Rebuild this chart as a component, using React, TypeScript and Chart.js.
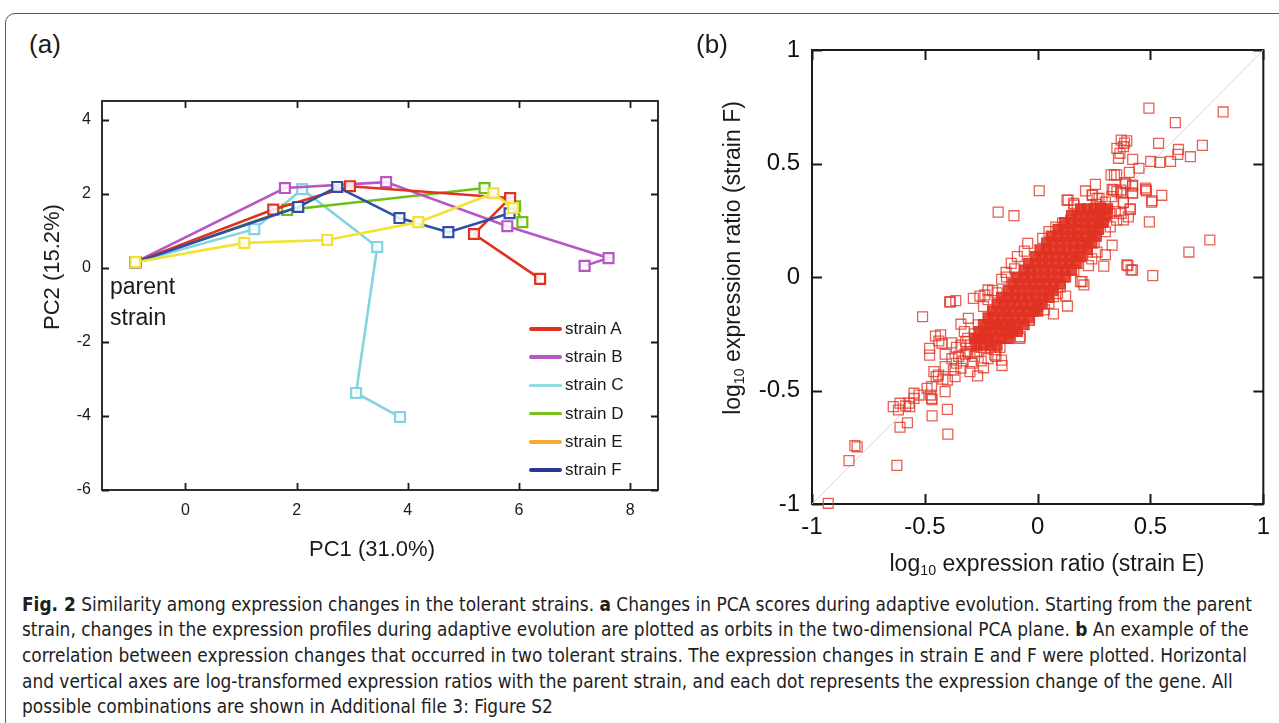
import React, { useEffect, useLayoutEffect, useRef } from 'react';
import { Chart, registerables } from 'chart.js';

Chart.register(...registerables);

// ---------- Panel (a): PCA orbits ----------
const STRAIN_NAMES = ['strain A', 'strain B', 'strain C', 'strain D', 'strain E', 'strain F'];
const STRAIN_A_PC1 = [-0.9, 1.58, 2.96, 5.84, 5.19, 6.38];
const STRAIN_A_PC2 = [0.15, 1.57, 2.2, 1.88, 0.91, -0.3];
const STRAIN_B_PC1 = [-0.9, 1.79, 3.61, 5.79, 7.61, 7.18];
const STRAIN_B_PC2 = [0.15, 2.15, 2.31, 1.12, 0.26, 0.05];
const STRAIN_C_PC1 = [-0.9, 1.24, 2.1, 3.45, 3.07, 3.86];
const STRAIN_C_PC2 = [0.15, 1.04, 2.12, 0.56, -3.38, -4.03];
const STRAIN_D_PC1 = [-0.9, 1.83, 5.38, 5.93, 6.06];
const STRAIN_D_PC2 = [0.15, 1.56, 2.15, 1.66, 1.23];
const STRAIN_E_PC1 = [-0.9, 1.06, 2.55, 4.19, 5.54, 5.89];
const STRAIN_E_PC2 = [0.15, 0.67, 0.75, 1.23, 2.01, 1.61];
const STRAIN_F_PC1 = [-0.9, 2.03, 2.73, 3.85, 4.73, 5.83];
const STRAIN_F_PC2 = [0.15, 1.64, 2.18, 1.34, 0.96, 1.47];

const LINE_COLORS = ['#e3311f', '#b756c4', '#82d5e0', '#6dbf14', '#f1e233', '#2f4ea6'];
const LEGEND_COLORS = ['#e3311f', '#b756c4', '#92dbe6', '#76c21b', '#f6ab2e', '#2b3592'];

const A_X_TICKS = [0, 2, 4, 6, 8];
const A_X_LABELS = ['0', '2', '4', '6', '8'];
const A_Y_TICKS = [-6, -4, -2, 0, 2, 4];
const A_Y_LABELS = ['-6', '-4', '-2', '0', '2', '4'];

// ---------- Panel (b): strain E vs strain F ----------
const B_TICKS = [-1, -0.5, 0, 0.5, 1];
const B_TICK_LABELS = ['-1', '-0.5', '0', '0.5', '1'];
const DIAGONAL_X = [-1, 1];
const DIAGONAL_Y = [-1, 1];

// dense core, read row by row (strain F value, then strain E values in that row)
const CORE_ROW_F = [-0.3, -0.27, -0.24, -0.21, -0.18, -0.15, -0.12, -0.09, -0.06, -0.03, 0.0, 0.03, 0.06, 0.09, 0.12, 0.15, 0.18, 0.21, 0.24, 0.27, 0.3];
const CORE_ROW_E = [
  [-0.27, -0.24, -0.21, -0.18],
  [-0.28, -0.25, -0.22, -0.19, -0.16, -0.13],
  [-0.26, -0.23, -0.2, -0.17, -0.14, -0.11, -0.09],
  [-0.24, -0.21, -0.18, -0.15, -0.12, -0.09, -0.06],
  [-0.22, -0.19, -0.16, -0.13, -0.1, -0.07, -0.04],
  [-0.2, -0.17, -0.14, -0.11, -0.08, -0.05, -0.02, 0.0],
  [-0.18, -0.15, -0.12, -0.09, -0.06, -0.03, 0.0, 0.02],
  [-0.16, -0.13, -0.1, -0.07, -0.04, -0.01, 0.02, 0.05],
  [-0.13, -0.1, -0.07, -0.04, -0.01, 0.02, 0.05, 0.07],
  [-0.11, -0.08, -0.05, -0.02, 0.01, 0.04, 0.07, 0.1],
  [-0.09, -0.06, -0.03, 0.0, 0.03, 0.06, 0.09, 0.12],
  [-0.06, -0.03, 0.0, 0.03, 0.06, 0.09, 0.12, 0.15],
  [-0.04, -0.01, 0.02, 0.05, 0.08, 0.11, 0.14, 0.17],
  [-0.01, 0.02, 0.05, 0.08, 0.11, 0.14, 0.17, 0.19],
  [0.01, 0.04, 0.07, 0.1, 0.13, 0.16, 0.19, 0.22],
  [0.04, 0.07, 0.1, 0.13, 0.16, 0.19, 0.22, 0.24],
  [0.06, 0.09, 0.12, 0.15, 0.18, 0.21, 0.24, 0.26],
  [0.09, 0.12, 0.15, 0.18, 0.21, 0.24, 0.27],
  [0.12, 0.15, 0.18, 0.21, 0.24, 0.27, 0.29],
  [0.15, 0.18, 0.21, 0.24, 0.27, 0.3],
  [0.19, 0.22, 0.25, 0.28, 0.31],
];

// [strain E, strain F] genes around the core
const BAND_GENES: [number, number][] = [
  [0.212, 0.379], [0.256, 0.408], [0.13, 0.339], [0.16, 0.324], [0.243, 0.361], [0.272, 0.347], [0.33, 0.386],
  [0.37, 0.37], [0.39, 0.41], [0.42, 0.4], [0.42, 0.37], [0.38, 0.33], [0.41, 0.3], [0.37, 0.28], [0.35, 0.25],
  [0.263, 0.11], [0.22, 0.11], [0.24, 0.08], [0.225, 0.05], [0.19, -0.02], [0.205, -0.035], [0.07, -0.087],
  [0.03, -0.145], [0.0, -0.13], [-0.077, -0.263], [-0.044, 0.148], [-0.059, 0.114], [0.022, 0.17], [0.05, 0.2],
  [0.08, 0.22], [0.11, 0.237], [-0.22, -0.057], [-0.24, -0.13], [-0.197, -0.175], [-0.227, -0.22],
  [0.241, 0.361], [0.263, 0.346], [0.135, 0.339], [0.161, 0.317], [0.387, 0.416], [0.421, 0.405], [0.421, 0.369],
  [0.336, 0.383], [0.368, 0.383], [0.329, 0.354], [0.351, 0.376], [0.38, 0.327], [0.41, 0.298], [0.402, 0.265],
  [0.38, 0.251], [0.344, 0.288], [0.278, 0.31], [0.307, 0.28], [0.248, 0.265], [0.27, 0.236], [0.322, 0.221],
  [0.292, 0.251], [0.175, 0.295], [0.197, 0.266], [0.219, 0.273], [0.234, 0.236], [0.146, 0.251], [0.117, 0.221],
  [0.132, 0.192], [0.175, 0.2],
  [-0.285, -0.094], [-0.256, -0.084], [-0.234, -0.079], [-0.307, -0.182], [-0.34, -0.208], [-0.325, -0.24],
  [-0.263, -0.211], [-0.453, -0.26], [-0.43, -0.255], [-0.438, -0.282], [-0.424, -0.292], [-0.479, -0.314],
  [-0.479, -0.344], [-0.38, -0.29], [-0.36, -0.31], [-0.34, -0.3], [-0.32, -0.285], [-0.41, -0.34], [-0.38, -0.36],
  [-0.35, -0.35], [-0.32, -0.34], [-0.3, -0.336], [-0.28, -0.35], [-0.25, -0.31], [-0.23, -0.29], [-0.21, -0.31],
  [-0.19, -0.32], [-0.167, -0.31], [-0.19, -0.343], [-0.185, -0.35], [-0.16, -0.366], [-0.3, -0.417],
  [-0.34, -0.402], [-0.366, -0.439], [-0.373, -0.41], [-0.41, -0.395], [-0.44, -0.432], [-0.42, -0.45],
  [-0.4, -0.454], [-0.46, -0.417], [-0.45, -0.439], [-0.47, -0.483], [-0.49, -0.49], [-0.475, -0.52],
  [-0.526, -0.52], [-0.548, -0.535], [-0.195, -0.19], [-0.146, -0.175], [-0.102, -0.19], [-0.037, -0.19],
  [-0.16, -0.233], [-0.13, -0.248], [-0.146, -0.27],
  [-0.2, -0.06], [-0.16, -0.01], [-0.22, -0.1], [-0.18, -0.07], [-0.14, 0.02], [-0.117, 0.06], [-0.102, 0.036],
  [-0.138, 0.0], [-0.09, 0.09], [0.124, 0.0], [0.16, 0.03], [0.175, 0.06], [0.1, -0.044], [0.088, -0.073],
  [0.05, -0.116], [0.2, 0.1], [0.25, 0.15], [0.3, 0.2], [0.32, 0.28], [0.28, 0.3], [0.3, 0.33], [0.26, 0.32],
  [-0.3, -0.3], [-0.27, -0.33], [-0.33, -0.37], [-0.36, -0.38], [-0.29, -0.38], [-0.25, -0.37], [-0.22, -0.36],
  [-0.24, -0.4], [-0.31, -0.33], [-0.26, -0.27], [-0.28, -0.25], [-0.31, -0.27], [-0.22, -0.27], [-0.2, -0.24],
];

// [strain E, strain F] isolated genes
const OUTLIER_GENES: [number, number][] = [
  [0.493, 0.744], [0.822, 0.727], [0.61, 0.68], [0.37, 0.603], [0.395, 0.6], [0.351, 0.567], [0.38, 0.574],
  [0.365, 0.545], [0.358, 0.523], [0.385, 0.59], [0.536, 0.589], [0.624, 0.562], [0.621, 0.54], [0.677, 0.53],
  [0.73, 0.58], [0.421, 0.518], [0.449, 0.479], [0.501, 0.509], [0.541, 0.505], [0.589, 0.509], [0.406, 0.461],
  [0.34, 0.45], [0.35, 0.45], [0.325, 0.45], [0.478, 0.392], [0.479, 0.385], [0.55, 0.36], [0.505, 0.33],
  [0.495, 0.243], [0.507, 0.336], [0.482, 0.379], [0.763, 0.163], [0.67, 0.11], [0.51, 0.006], [0.4, 0.05],
  [0.42, 0.03], [0.33, 0.14], [0.3, 0.098], [0.293, 0.048], [0.395, 0.053], [0.414, 0.031], [0.007, 0.38],
  [-0.175, 0.286], [-0.105, 0.27], [0.197, -0.02], [0.124, -0.084], [0.132, -0.128], [0.07, -0.163],
  [-0.036, -0.19], [-0.08, -0.27], [-0.51, -0.175], [-0.39, -0.11], [-0.363, -0.104], [-0.387, -0.11],
  [-0.266, -0.436], [-0.158, -0.39], [-0.41, -0.505], [-0.468, -0.54], [-0.47, -0.535], [-0.548, -0.512],
  [-0.567, -0.571], [-0.61, -0.556], [-0.64, -0.571], [-0.617, -0.586], [-0.585, -0.568], [-0.57, -0.556],
  [-0.4, -0.583], [-0.468, -0.612], [-0.577, -0.642], [-0.61, -0.662], [-0.398, -0.692], [-0.81, -0.743],
  [-0.8, -0.748], [-0.836, -0.809], [-0.624, -0.83], [-0.928, -0.997],
];

const CAPTION_LINES: React.ReactNode[] = [
  <><b>Fig. 2</b> Similarity among expression changes in the tolerant strains. <b>a</b> Changes in PCA scores during adaptive evolution. Starting from the parent</>,
  <>strain, changes in the expression profiles during adaptive evolution are plotted as orbits in the two-dimensional PCA plane. <b>b</b> An example of the</>,
  <>correlation between expression changes that occurred in two tolerant strains. The expression changes in strain E and F were plotted. Horizontal</>,
  <>and vertical axes are log-transformed expression ratios with the parent strain, and each dot represents the expression change of the gene. All</>,
  <>possible combinations are shown in Additional file 3: Figure S2</>,
];
const CAPTION_CENTERS = [604, 629, 655, 681, 706];

const FONT = '"Liberation Sans", Arial, Helvetica, sans-serif';

function framePlugin(tickLen: number, lineW: number) {
  return {
    id: 'frameTicks',
    beforeDatasetsDraw(chart: any) {
      const { ctx, chartArea } = chart;
      const { left, right, top, bottom } = chartArea;
      const xs = chart.scales.x;
      const ys = chart.scales.y;
      ctx.save();
      ctx.strokeStyle = '#1a1a1a';
      ctx.lineWidth = lineW;
      ctx.beginPath();
      xs.ticks.forEach((t: any) => {
        const p = Math.round(xs.getPixelForValue(t.value)) + 0.5;
        ctx.moveTo(p, bottom);
        ctx.lineTo(p, bottom - tickLen);
        ctx.moveTo(p, top);
        ctx.lineTo(p, top + tickLen);
      });
      ys.ticks.forEach((t: any) => {
        const p = Math.round(ys.getPixelForValue(t.value)) + 0.5;
        ctx.moveTo(left, p);
        ctx.lineTo(left + tickLen, p);
        ctx.moveTo(right, p);
        ctx.lineTo(right - tickLen, p);
      });
      ctx.stroke();
      ctx.strokeRect(left, top, right - left, bottom - top);
      ctx.restore();
    },
  };
}

function toPoints(xs: number[], ys: number[]) {
  return xs.map((x, i) => ({ x, y: ys[i] }));
}

export default function App() {
  const refA = useRef<HTMLCanvasElement>(null);
  const refB = useRef<HTMLCanvasElement>(null);
  const captionRefs = useRef<(HTMLDivElement | null)[]>([]);

  useLayoutEffect(() => {
    const first = captionRefs.current[0];
    if (!first) return;
    const w = first.scrollWidth;
    const s = w > 0 ? 1230 / w : 1;
    captionRefs.current.forEach((el) => {
      if (el) el.style.transform = `scaleX(${s})`;
    });
  }, []);

  useEffect(() => {
    const strainX = [STRAIN_A_PC1, STRAIN_B_PC1, STRAIN_C_PC1, STRAIN_D_PC1, STRAIN_E_PC1, STRAIN_F_PC1];
    const strainY = [STRAIN_A_PC2, STRAIN_B_PC2, STRAIN_C_PC2, STRAIN_D_PC2, STRAIN_E_PC2, STRAIN_F_PC2];
    const drawOrder = [3, 4, 6, 5, 1, 2];
    const chartA = new Chart(refA.current as HTMLCanvasElement, {
      type: 'scatter',
      data: {
        datasets: STRAIN_NAMES.map((name, i) => ({
          label: name,
          data: toPoints(strainX[i], strainY[i]),
          showLine: true,
          borderColor: LINE_COLORS[i],
          backgroundColor: LINE_COLORS[i],
          borderWidth: 2.6,
          pointStyle: 'rect',
          pointRadius: 7,
          pointBorderWidth: 2.2,
          pointBorderColor: LINE_COLORS[i],
          pointBackgroundColor: 'rgba(255,255,255,0.85)',
          order: drawOrder[i],
        })),
      },
      options: {
        responsive: false,
        animation: false,
        events: [],
        layout: { padding: { top: 31, right: 22, left: 0, bottom: 0 } },
        plugins: { legend: { display: false }, tooltip: { enabled: false } },
        scales: {
          x: {
            type: 'linear',
            min: -1.5,
            max: 8.5,
            grid: { display: false, drawTicks: false },
            border: { display: false },
            ticks: {
              padding: 11,
              color: '#1a1a1a',
              font: { family: FONT, size: 16 },
              callback: (_v: any, i: number) => A_X_LABELS[i],
            },
            afterBuildTicks: (s: any) => {
              s.ticks = A_X_TICKS.map((v) => ({ value: v }));
            },
            afterFit: (s: any) => {
              s.height = 90;
            },
          },
          y: {
            type: 'linear',
            min: -6,
            max: 4.5,
            grid: { display: false, drawTicks: false },
            border: { display: false },
            ticks: {
              padding: 11,
              color: '#1a1a1a',
              font: { family: FONT, size: 16 },
              callback: (_v: any, i: number) => A_Y_LABELS[i],
            },
            afterBuildTicks: (s: any) => {
              s.ticks = A_Y_TICKS.map((v) => ({ value: v }));
            },
            afterFit: (s: any) => {
              s.width = 82;
            },
          },
        },
      },
      plugins: [framePlugin(7, 1.8)],
    } as any);

    const corePoints: { x: number; y: number }[] = [];
    CORE_ROW_F.forEach((f, r) => {
      CORE_ROW_E[r].forEach((e) => corePoints.push({ x: e, y: f }));
    });
    const hollowPoints = [...BAND_GENES, ...OUTLIER_GENES].map(([e, f]) => ({ x: e, y: f }));

    const chartB = new Chart(refB.current as HTMLCanvasElement, {
      type: 'scatter',
      data: {
        datasets: [
          {
            label: 'y = x',
            data: toPoints(DIAGONAL_X, DIAGONAL_Y),
            showLine: true,
            borderColor: '#d6d6d6',
            borderWidth: 1,
            pointRadius: 0,
            order: 3,
          },
          {
            label: 'genes',
            data: hollowPoints,
            pointStyle: 'rect',
            pointRadius: 7,
            pointBorderWidth: 1.3,
            pointBorderColor: 'rgba(226,52,36,0.78)',
            pointBackgroundColor: 'rgba(255,255,255,0)',
            clip: false,
            order: 2,
          },
          {
            label: 'genes (dense)',
            data: corePoints,
            pointStyle: 'rect',
            pointRadius: 7,
            pointBorderWidth: 1.3,
            pointBorderColor: 'rgba(224,50,34,0.9)',
            pointBackgroundColor: 'rgba(224,50,34,0.88)',
            clip: false,
            order: 1,
          },
        ],
      },
      options: {
        responsive: false,
        animation: false,
        events: [],
        layout: { padding: { top: 30, right: 11, left: 0, bottom: 0 } },
        plugins: { legend: { display: false }, tooltip: { enabled: false } },
        scales: {
          x: {
            type: 'linear',
            min: -1,
            max: 1,
            grid: { display: false, drawTicks: false },
            border: { display: false },
            ticks: {
              padding: 9,
              color: '#111',
              font: { family: FONT, size: 24 },
              callback: (_v: any, i: number) => B_TICK_LABELS[i],
            },
            afterBuildTicks: (s: any) => {
              s.ticks = B_TICKS.map((v) => ({ value: v }));
            },
            afterFit: (s: any) => {
              s.height = 76;
            },
          },
          y: {
            type: 'linear',
            min: -1,
            max: 1,
            grid: { display: false, drawTicks: false },
            border: { display: false },
            ticks: {
              padding: 12,
              color: '#111',
              font: { family: FONT, size: 24 },
              callback: (_v: any, i: number) => B_TICK_LABELS[i],
            },
            afterBuildTicks: (s: any) => {
              s.ticks = B_TICKS.map((v) => ({ value: v }));
            },
            afterFit: (s: any) => {
              s.width = 112;
            },
          },
        },
      },
      plugins: [framePlugin(10, 2)],
    } as any);

    return () => {
      chartA.destroy();
      chartB.destroy();
    };
  }, []);

  const abs = (l: number, t: number): React.CSSProperties => ({ position: 'absolute', left: l, top: t });
  const centered = (cx: number, cy: number, size: number, rotate = false): React.CSSProperties => ({
    position: 'absolute',
    left: cx,
    top: cy,
    transform: `translate(-50%, -50%)${rotate ? ' rotate(-90deg)' : ''}`,
    whiteSpace: 'nowrap',
    fontSize: size,
    lineHeight: 1,
  });
  const subStyle: React.CSSProperties = { fontSize: '0.62em', verticalAlign: '-0.3em', lineHeight: 0 };

  return (
    <div
      style={{
        position: 'absolute',
        left: 0,
        top: 0,
        width: 1279,
        height: 723,
        overflow: 'hidden',
        background: '#fff',
        fontFamily: FONT,
        color: '#1a1a1a',
      }}
    >
      <div
        style={{
          position: 'absolute',
          left: 5,
          top: 13,
          width: 1400,
          height: 900,
          border: '1.5px solid #5a5a5a',
          borderRadius: 10,
          boxSizing: 'border-box',
        }}
      />
      <canvas ref={refA} width={660} height={510} style={abs(20, 70)} />
      <canvas ref={refB} width={579} height={560} style={abs(700, 20)} />

      <div style={centered(45, 44, 26)}>(a)</div>
      <div style={centered(712, 44, 26)}>(b)</div>

      <div style={centered(372, 549, 22)}>PC1 (31.0%)</div>
      <div style={centered(52, 267, 22, true)}>PC2 (15.2%)</div>

      <div style={{ ...abs(110, 271), fontSize: 23, lineHeight: '31px' }}>
        parent
        <br />
        strain
      </div>

      {STRAIN_NAMES.map((name, i) => (
        <div key={name} style={{ position: 'absolute', left: 529, top: 329 + i * 28.2 - 10, height: 20, display: 'flex', alignItems: 'center' }}>
          <span style={{ display: 'inline-block', width: 33, height: 3.5, background: LEGEND_COLORS[i], borderRadius: 2 }} />
          <span style={{ marginLeft: 3, fontSize: 17, whiteSpace: 'nowrap' }}>{name}</span>
        </div>
      ))}

      <div style={centered(1047, 563, 23)}>
        log<sub style={subStyle}>10</sub> expression ratio (strain E)
      </div>
      <div style={centered(732, 258, 23, true)}>
        log<sub style={subStyle}>10</sub> expression ratio (strain F)
      </div>

      {CAPTION_LINES.map((line, i) => (
        <div
          key={i}
          ref={(el) => {
            captionRefs.current[i] = el;
          }}
          style={{
            position: 'absolute',
            left: 22,
            top: CAPTION_CENTERS[i] - 13,
            height: 26,
            lineHeight: '26px',
            fontSize: 20,
            whiteSpace: 'nowrap',
            transformOrigin: 'left center',
            color: '#1e1e1e',
            fontFamily: '"Liberation Sans Narrow", "DejaVu Sans Condensed", "Open Sans", sans-serif',
          }}
        >
          {line}
        </div>
      ))}
    </div>
  );
}
